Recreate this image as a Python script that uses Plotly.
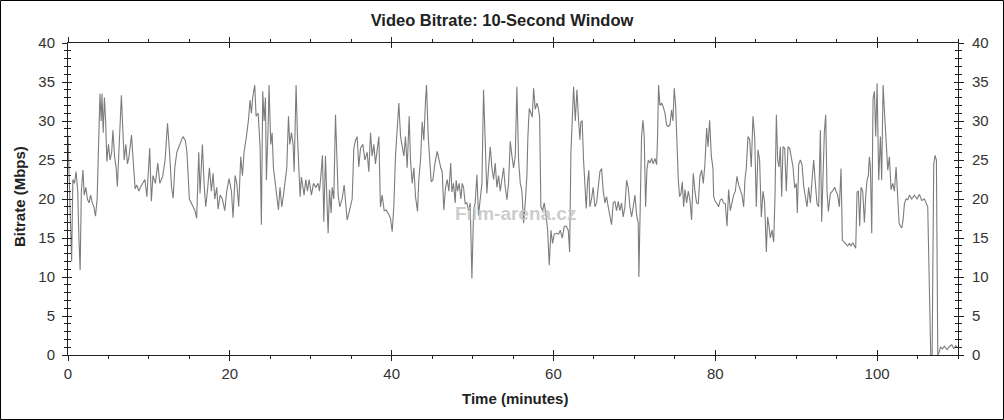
import plotly.graph_objects as go

# ---- data ----
minutes = [
    0.0, 0.2, 0.35, 0.45, 0.6, 0.8, 1.0, 1.2, 1.35, 1.5, 1.65, 1.85, 2.0, 2.2, 2.4, 2.6, 2.8, 3.0, 3.2, 3.4,
    3.6, 3.75, 3.95, 4.1, 4.2, 4.35, 4.5, 4.65, 4.8, 5.0, 5.2, 5.4, 5.55, 5.75, 5.95, 6.1, 6.3, 6.5, 6.6, 6.75,
    6.95, 7.15, 7.35, 7.55, 7.85, 8.05, 8.3, 8.5, 8.75, 9.0, 9.25, 9.5, 9.75, 9.95, 10.1, 10.3, 10.5, 10.8, 11.1, 11.35,
    11.7, 12.0, 12.3, 12.55, 12.8, 13.0, 13.2, 13.45, 13.8, 14.2, 14.5, 14.7, 15.0, 15.4, 15.7, 15.9,
    16.16, 16.32, 16.61, 16.82, 17.02, 17.23, 17.48, 17.72, 17.93, 18.14, 18.38, 18.55, 18.8, 19.08, 19.37, 19.62, 19.91, 20.2,
    20.4, 20.65, 20.86, 21.1, 21.35, 21.56, 21.76, 22.05, 22.3, 22.5, 22.67, 22.83, 23.08, 23.25, 23.5, 23.74, 23.9, 24.07,
    24.24, 24.4, 24.52, 24.73, 24.85, 25.06, 25.23, 25.39, 25.6, 25.8, 26.01, 26.2, 26.42, 26.63, 26.83, 27.04, 27.25, 27.41,
    27.62, 27.82, 27.95, 28.19, 28.36, 28.52, 28.69, 28.85, 29.18, 29.39, 29.6, 29.8, 30.09, 30.34, 30.63, 30.91, 31.08, 31.24,
    31.45, 31.62, 31.82, 32.03, 32.15, 32.32, 32.52, 32.65, 32.85, 33.06, 33.22, 33.39, 33.59, 33.88, 34.13, 34.3, 34.5, 34.79,
    35.12, 35.33, 35.53, 35.74, 35.94, 36.15, 36.44, 36.69, 36.97, 37.18, 37.39, 37.59, 37.8, 38.0, 38.21, 38.42, 38.62, 38.83,
    39.08, 39.32, 39.65, 39.86, 40.07, 40.27, 40.48, 40.68, 40.89, 41.1, 41.3, 41.51, 41.71, 41.92, 42.17, 42.33, 42.54, 42.75,
    42.95, 43.2, 43.36, 43.57, 43.78, 43.98, 44.19, 44.31, 44.52, 44.68, 44.89, 45.09, 45.34, 45.63, 45.84, 46.08, 46.25, 46.45,
    46.66, 46.87, 47.07, 47.3, 47.45, 47.65, 47.86, 47.98, 48.15, 48.35, 48.56, 48.72, 48.89, 49.09, 49.3, 49.51, 49.71, 49.92,
    50.13, 50.33, 50.54, 50.74, 50.95, 51.16, 51.36, 51.57, 51.77, 51.98, 52.19, 52.39, 52.6, 52.8, 53.01, 53.22, 53.42, 53.63,
    53.84, 54.04, 54.25, 54.45, 54.66, 54.87, 55.07, 55.28, 55.48, 55.69, 55.9, 56.1, 56.31, 56.51, 56.72, 56.84, 57.01, 57.22,
    57.38, 57.55, 57.75, 57.96, 58.16, 58.29, 58.45, 58.66, 58.86, 59.07, 59.28, 59.48, 59.69, 59.89, 60.1, 60.35, 60.64, 60.84,
    61.09, 61.34, 61.58, 61.83, 62.0, 62.16, 62.33, 62.49, 62.7, 62.9, 63.11, 63.27, 63.39, 63.55, 63.72, 63.88, 64.05, 64.21,
    64.38, 64.5, 64.71, 64.91, 65.12, 65.33, 65.53, 65.74, 65.95, 66.15, 66.36, 66.56, 66.77, 66.98, 67.18, 67.39, 67.59, 67.8,
    68.01, 68.21, 68.42, 68.62, 68.83, 69.04, 69.24, 69.45, 69.66, 69.86, 70.07, 70.27, 70.48, 70.56, 70.73, 70.89, 71.06, 71.22,
    71.39, 71.55, 71.72, 71.92, 72.13, 72.33, 72.54, 72.75, 72.87, 72.99, 73.16, 73.37, 73.57, 73.78, 73.98, 74.19, 74.4, 74.6,
    74.77, 74.93, 75.1, 75.26, 75.43, 75.59, 75.76, 75.92, 76.09, 76.25, 76.46, 76.66, 76.87, 77.07, 77.28, 77.49, 77.69, 77.9,
    78.1, 78.31, 78.52, 78.72, 78.93, 79.1, 79.3, 79.51, 79.71, 79.8, 80.0, 80.21, 80.41, 80.62, 80.83, 81.03, 81.24, 81.45,
    81.65, 81.86, 82.06, 82.27, 82.48, 82.68, 82.89, 83.09, 83.3, 83.51, 83.67, 83.84, 84.04, 84.25, 84.45, 84.66, 84.87, 85.07,
    85.28, 85.48, 85.69, 85.9, 86.1, 86.31, 86.47, 86.64, 86.8, 87.01, 87.22, 87.38, 87.55, 87.71, 87.88, 88.04, 88.21, 88.37,
    88.58, 88.78, 88.99, 89.2, 89.4, 89.61, 89.81, 90.02, 90.14, 90.31, 90.51, 90.72, 90.93, 91.13, 91.34, 91.54, 91.75, 91.96,
    92.16, 92.37, 92.57, 92.78, 92.99, 93.15, 93.32, 93.48, 93.65, 93.81, 93.98, 94.22, 94.47, 94.76, 94.93, 95.13, 95.34, 95.54,
    95.71, 95.87, 96.16, 96.37, 96.57, 96.78, 96.99, 97.19, 97.36, 97.52, 97.69, 97.85, 98.02, 98.22, 98.43, 98.6, 98.76, 98.92,
    99.05, 99.17, 99.34, 99.5, 99.67, 99.83, 100.0, 100.2, 100.41, 100.57, 100.74, 100.9, 101.11, 101.32, 101.52, 101.73, 101.93, 102.14,
    102.35, 102.55, 102.72, 102.88, 103.05, 103.21, 103.38, 103.58, 103.79, 104.0, 104.28, 104.61, 104.94, 105.23, 105.52, 105.85, 106.1, 106.26,
    106.63, 106.8, 107.0, 107.17, 107.33, 107.5, 107.66, 107.83, 108.08, 108.32, 108.65, 108.94, 109.23, 109.48, 109.72, 109.97,
]

bitrate_mbps = [
    28.0, 22.0, 15.0, 12.0, 22.5, 22.0, 23.5, 21.0, 15.0, 10.9, 21.0, 23.7, 20.5, 21.5, 20.0, 19.5, 20.5, 19.5, 19.0, 17.8,
    20.0, 26.5, 33.5, 30.0, 33.5, 28.5, 33.0, 30.0, 24.8, 27.0, 25.0, 26.0, 28.8, 25.5, 24.0, 21.6, 26.0, 30.0, 33.3, 29.5,
    25.0, 27.0, 24.5, 25.5, 28.2, 25.0, 21.3, 21.8, 21.0, 21.6, 22.0, 22.5, 20.3, 23.5, 26.5, 19.7, 23.0, 22.0, 24.6, 22.0,
    22.9, 25.0, 29.7, 26.0, 21.5, 20.1, 24.0, 26.0, 27.0, 28.0, 27.5, 26.0, 20.0, 19.0, 18.5, 17.5,
    26.0, 20.7, 27.0, 22.0, 19.0, 21.0, 24.0, 21.0, 23.3, 20.0, 21.5, 18.7, 20.5, 20.0, 18.5, 21.0, 22.6, 21.0,
    17.6, 23.0, 22.0, 19.0, 25.4, 23.0, 26.0, 28.0, 30.1, 32.7, 31.0, 33.0, 34.6, 30.6, 31.0, 26.7, 16.7, 33.8,
    30.0, 33.0, 22.4, 29.0, 34.6, 27.0, 28.5, 24.0, 22.0, 20.5, 18.6, 21.5, 19.0, 20.5, 22.5, 24.0, 30.6, 27.0,
    28.5, 27.0, 23.5, 34.6, 28.0, 23.5, 20.3, 22.8, 20.5, 22.5, 21.0, 22.5, 20.5, 22.0, 21.5, 22.0, 21.0, 22.8,
    25.6, 17.1, 25.5, 19.0, 15.6, 21.2, 18.2, 21.5, 20.0, 30.8, 26.0, 20.5, 19.0, 20.0, 21.8, 19.5, 17.3, 18.5,
    20.0, 26.5, 27.5, 28.0, 24.1, 26.5, 27.0, 25.0, 26.0, 23.5, 28.5, 25.5, 27.0, 24.5, 26.5, 28.0, 19.0, 20.5,
    18.5, 18.6, 18.0, 17.5, 15.8, 19.0, 25.6, 29.7, 32.3, 28.0, 27.0, 25.5, 28.0, 24.0, 30.6, 25.0, 22.0, 24.0,
    20.3, 18.4, 22.5, 25.0, 29.9, 27.5, 32.7, 34.6, 28.0, 26.0, 22.2, 22.4, 24.5, 26.1, 25.0, 24.0, 23.5, 18.6,
    21.5, 22.5, 21.0, 24.6, 20.9, 22.0, 19.5, 22.4, 21.0, 22.0, 20.0, 22.0, 21.5, 19.4, 19.5, 18.5, 19.5, 9.8,
    18.5, 19.5, 23.1, 17.9, 20.0, 22.0, 34.0, 28.0, 20.7, 24.0, 26.7, 24.0, 22.5, 24.6, 21.5, 23.0, 21.0, 22.5,
    24.0, 21.5, 19.9, 22.0, 27.4, 25.5, 24.0, 25.5, 34.4, 25.0, 22.0, 21.0, 16.9, 19.5, 23.0, 28.0, 31.6, 31.0,
    30.5, 34.2, 31.5, 32.3, 31.5, 30.5, 19.0, 18.5, 19.5, 18.0, 16.0, 11.5, 16.0, 14.3, 15.5, 15.6, 15.5, 16.0,
    15.0, 16.5, 16.5, 16.0, 13.2, 26.0, 32.0, 34.4, 30.0, 34.0, 30.0, 27.6, 29.9, 30.0, 25.0, 21.0, 18.8, 22.0,
    23.7, 19.0, 20.0, 21.5, 19.0, 19.5, 22.0, 23.5, 23.9, 21.0, 19.5, 20.3, 19.0, 18.0, 16.7, 19.5, 19.7, 18.5,
    19.7, 18.5, 19.5, 17.7, 19.0, 22.4, 21.5, 19.0, 17.7, 19.0, 20.5, 18.0, 16.9, 10.0, 20.0, 28.0, 30.1, 28.0,
    19.0, 23.7, 25.0, 24.6, 25.2, 24.5, 25.2, 24.4, 28.0, 34.6, 32.0, 32.3, 31.8, 31.0, 29.5, 29.3, 29.5, 31.4,
    30.0, 34.2, 32.0, 25.9, 22.4, 20.3, 20.7, 22.2, 19.0, 21.2, 19.5, 21.0, 19.9, 17.3, 23.3, 21.0, 19.5, 19.4,
    22.9, 23.7, 22.0, 24.5, 29.1, 26.7, 30.1, 25.5, 24.0, 20.3, 19.7, 19.4, 19.0, 19.9, 20.0, 19.5, 19.4, 16.5,
    21.2, 18.5, 19.4, 20.5, 21.0, 22.9, 21.8, 21.0, 20.5, 19.0, 22.5, 24.0, 28.0, 27.6, 24.1, 30.6, 28.0, 19.0,
    26.3, 25.0, 17.7, 21.0, 19.5, 13.2, 17.7, 16.5, 15.0, 16.0, 14.5, 20.3, 30.8, 25.0, 24.1, 26.7, 20.3, 26.7,
    26.5, 21.0, 26.7, 26.5, 25.0, 24.1, 21.4, 22.0, 18.2, 24.4, 25.0, 24.4, 21.6, 20.5, 19.0, 21.5, 19.5, 22.4,
    25.0, 22.0, 19.4, 19.0, 28.8, 17.1, 25.0, 28.5, 30.8, 21.0, 18.4, 20.7, 21.0, 21.5, 21.0, 20.5, 19.0, 23.9,
    14.7, 14.5, 14.2, 14.0, 14.3, 14.0, 14.4, 14.0, 13.7, 20.9, 21.0, 16.5, 21.5, 21.0, 17.0, 20.5, 22.4, 23.0,
    25.4, 24.1, 15.6, 32.9, 33.8, 28.0, 34.8, 22.4, 28.0, 22.4, 34.6, 31.4, 26.7, 23.7, 25.4, 21.2, 22.0, 21.0,
    24.1, 19.9, 16.9, 16.5, 16.3, 17.3, 19.4, 20.0, 19.9, 20.5, 20.0, 20.5, 20.0, 20.6, 19.8, 20.0, 19.5, 19.0,
    0.0, 0.0, 24.5, 25.6, 25.0, 0.0, 0.3, 1.0, 0.8, 1.1, 0.7, 1.1, 1.3, 0.8, 1.2, 0.9,
]

x_tick_values = [0, 20, 40, 60, 80, 100]
y_tick_values = [0, 5, 10, 15, 20, 25, 30, 35, 40]

title_text = "Video Bitrate: 10-Second Window"
x_title = "Time (minutes)"
y_title = "Bitrate (Mbps)"
watermark = "Film-arena.cz"

# ---- layout geometry ----
W, H = 1004, 420
L, R, T, B = 68, 46, 43, 65
PW, PH = W - L - R, H - T - B

FONT = "Liberation Sans, Arial, sans-serif"
AXC = "#222222"
TICKC = "#333333"

fig = go.Figure()
fig.add_trace(go.Scatter(
    x=minutes, y=bitrate_mbps, mode="lines",
    line=dict(color="#7c7c7c", width=1.1),
    hoverinfo="skip", showlegend=False,
))
# empty helper traces so the overlay axes (inner ticks / right axis) are drawn
fig.add_trace(go.Scatter(x=[None], y=[None], xaxis="x2", yaxis="y2", showlegend=False, hoverinfo="skip"))
fig.add_trace(go.Scatter(x=[None], y=[None], xaxis="x", yaxis="y3", showlegend=False, hoverinfo="skip"))
fig.add_trace(go.Scatter(x=[None], y=[None], xaxis="x", yaxis="y4", showlegend=False, hoverinfo="skip"))

xr = [0, 110]
yr = [0, 40]
tickfont = dict(family=FONT, size=15, color=TICKC)

fig.update_layout(
    width=W, height=H,
    margin=dict(l=L, r=R, t=T, b=B, autoexpand=False),
    paper_bgcolor="white", plot_bgcolor="white",
    showlegend=False,
    title=dict(text="<b>" + title_text + "</b>", x=0.5, xref="container", xanchor="center",
               y=1 - 20 / H, yref="container", yanchor="middle",
               font=dict(family=FONT, size=16.5, color="#222222")),
    xaxis=dict(range=xr, tickvals=x_tick_values, ticks="outside", ticklen=5, tickwidth=1,
               tickcolor=AXC, showline=True, linecolor=AXC, linewidth=1, mirror="ticks",
               showgrid=False, zeroline=False, tickfont=tickfont,
               minor=dict(dtick=5, tick0=0, ticks="outside", ticklen=3, tickcolor=AXC, showgrid=False)),
    xaxis2=dict(range=xr, overlaying="x", anchor="y", tickvals=x_tick_values, ticks="inside",
                ticklen=5, tickcolor=AXC, showticklabels=False, showline=False, mirror="ticks",
                showgrid=False, zeroline=False),
    yaxis=dict(range=yr, tickvals=y_tick_values, ticks="outside", ticklen=5, tickwidth=1,
               tickcolor=AXC, showline=True, linecolor=AXC, linewidth=1, ticklabelstandoff=4,
               showgrid=False, zeroline=False, tickfont=tickfont,
               minor=dict(dtick=1, tick0=0, ticks="outside", ticklen=3, tickcolor=AXC, showgrid=False)),
    yaxis2=dict(range=yr, overlaying="y", side="left", anchor="x", tickvals=y_tick_values,
                ticks="inside", ticklen=4, tickcolor=AXC, showticklabels=False, showline=False,
                showgrid=False, zeroline=False,
                minor=dict(dtick=1, tick0=0, ticks="inside", ticklen=3, tickcolor=AXC, showgrid=False)),
    yaxis3=dict(range=yr, overlaying="y", side="right", anchor="x", tickvals=y_tick_values,
                ticks="outside", ticklen=5, tickcolor=AXC, showline=True, linecolor=AXC, linewidth=1,
                ticklabelstandoff=5,
                showgrid=False, zeroline=False, tickfont=tickfont,
                minor=dict(dtick=1, tick0=0, ticks="outside", ticklen=3, tickcolor=AXC, showgrid=False)),
    yaxis4=dict(range=yr, overlaying="y", side="right", anchor="x", tickvals=y_tick_values,
                ticks="inside", ticklen=4, tickcolor=AXC, showticklabels=False, showline=False,
                showgrid=False, zeroline=False,
                minor=dict(dtick=1, tick0=0, ticks="inside", ticklen=3, tickcolor=AXC, showgrid=False)),
)

fig.add_annotation(text="<b>" + x_title + "</b>", xref="paper", yref="paper",
                   x=(515 - L) / PW, y=(H - B - 398) / PH, showarrow=False,
                   xanchor="center", yanchor="middle",
                   font=dict(family=FONT, size=15, color="#222222"))
fig.add_annotation(text="<b>" + y_title + "</b>", xref="paper", yref="paper",
                   x=(19 - L) / PW, y=(H - B - 197) / PH, showarrow=False, textangle=-90,
                   xanchor="center", yanchor="middle",
                   font=dict(family=FONT, size=15, color="#222222"))
fig.add_annotation(text="<b>" + watermark + "</b>", xref="paper", yref="paper",
                   x=(515 - L) / PW, y=(H - B - 213) / PH, showarrow=False,
                   xanchor="center", yanchor="middle",
                   font=dict(family=FONT, size=19, color="rgba(195,195,195,0.85)"))

# outer black frame around the whole picture
fig.add_shape(type="rect", xref="paper", yref="paper",
              x0=(0.5 - L) / PW, x1=(W - 0.5 - L) / PW,
              y0=(H - B - (H - 0.5)) / PH, y1=(H - B - 0.5) / PH,
              line=dict(color="black", width=1), fillcolor="rgba(0,0,0,0)", layer="above")

# remove the browser's default page margin so the figure sits at (0, 0)
fig.write_html("out.html",
               config={"displayModeBar": False},
               post_script="document.body.style.margin='0';document.body.style.padding='0';")
